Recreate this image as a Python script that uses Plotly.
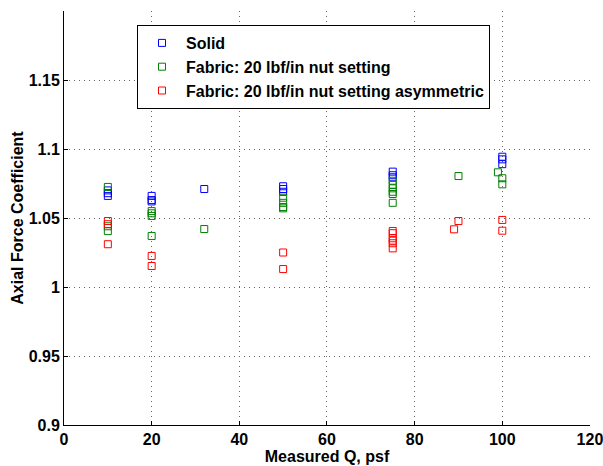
import plotly.graph_objects as go

# Data
solid_q = [10, 10, 10, 20, 20, 20, 32, 50, 50, 50, 75, 75, 75, 100, 100, 100]
solid_v = [1.066, 1.068, 1.070, 1.066, 1.063, 1.062, 1.071, 1.073, 1.071, 1.069,
           1.0836, 1.081, 1.0795, 1.0944, 1.0925, 1.089]

fabric_q = [10, 10, 10, 20, 20, 20, 20, 32, 50, 50, 50, 50,
            75, 75, 75, 75, 75, 75, 90, 99, 100, 100]
fabric_v = [1.0725, 1.044, 1.0405, 1.055, 1.0534, 1.0515, 1.037, 1.042, 1.0647, 1.061, 1.058, 1.057,
            1.077, 1.074, 1.0715, 1.069, 1.0674, 1.061, 1.0804, 1.0831, 1.0788, 1.0744]

asym_q = [10, 10, 10, 20, 20, 50, 50, 75, 75, 75, 75, 75, 75, 89, 90, 100, 100]
asym_v = [1.0478, 1.0455, 1.031, 1.0225, 1.0152, 1.025, 1.013,
          1.0406, 1.039, 1.0353, 1.0336, 1.0317, 1.028, 1.0418, 1.0478, 1.0486, 1.0408]

x_ticks = [0, 20, 40, 60, 80, 100, 120]
y_ticks = [0.9, 0.95, 1.0, 1.05, 1.1, 1.15]
y_tick_text = ["0.9", "0.95", "1", "1.05", "1.1", "1.15"]

series = [
    ("Solid", solid_q, solid_v, "#0000ff"),
    ("Fabric: 20 lbf/in nut setting", fabric_q, fabric_v, "#008000"),
    ("Fabric: 20 lbf/in nut setting asymmetric", asym_q, asym_v, "#ff0000"),
]

fig = go.Figure()
for i, (name, q, v, c) in enumerate(series):
    fig.add_trace(go.Scatter(
        x=q, y=v, mode="markers", name=name, legendgroup=str(i),
        marker=dict(symbol="square-open", size=7, color=c, line=dict(width=1, color=c)),
    ))

font_family = "Liberation Sans, Arial, sans-serif"
grid_style = dict(showgrid=True, gridcolor="#666666", griddash="1px,4px", gridwidth=1)
fig.update_layout(
    width=603, height=466,
    margin=dict(l=64, r=13, t=11, b=41),
    paper_bgcolor="white", plot_bgcolor="white",
    font=dict(family=font_family, color="black"),
    showlegend=True,
    legend=dict(
        x=(137 - 64) / 526, y=(425 - 25) / 414, xanchor="left", yanchor="top",
        bgcolor="white", bordercolor="black", borderwidth=1,
        font=dict(size=16, family=font_family, color="black", weight="bold"),
        tracegroupgap=0, itemwidth=38,
    ),
    xaxis=dict(
        range=[0, 120.01], tickvals=x_ticks, ticks="inside", ticklen=4, tickcolor="black",
        ticklabeloverflow="allow", automargin=False,
        showline=True, linecolor="black", linewidth=1, mirror=False,
        zeroline=False, **grid_style,
        tickfont=dict(size=16, family=font_family, weight="bold"),
        title=dict(text="Measured Q, psf", font=dict(size=16, family=font_family, weight="bold"), standoff=2),
    ),
    yaxis=dict(
        range=[0.9, 1.2], tickvals=y_ticks, ticktext=y_tick_text, ticks="inside", ticklen=4, tickcolor="black",
        showline=True, linecolor="black", linewidth=1, mirror=False, automargin=False,
        zeroline=False, **grid_style,
        tickfont=dict(size=16, family=font_family, weight="bold"),
        title=dict(text="Axial Force Coefficient", font=dict(size=16, family=font_family, weight="bold"), standoff=1),
    ),
)

fig.write_html("out.html")
